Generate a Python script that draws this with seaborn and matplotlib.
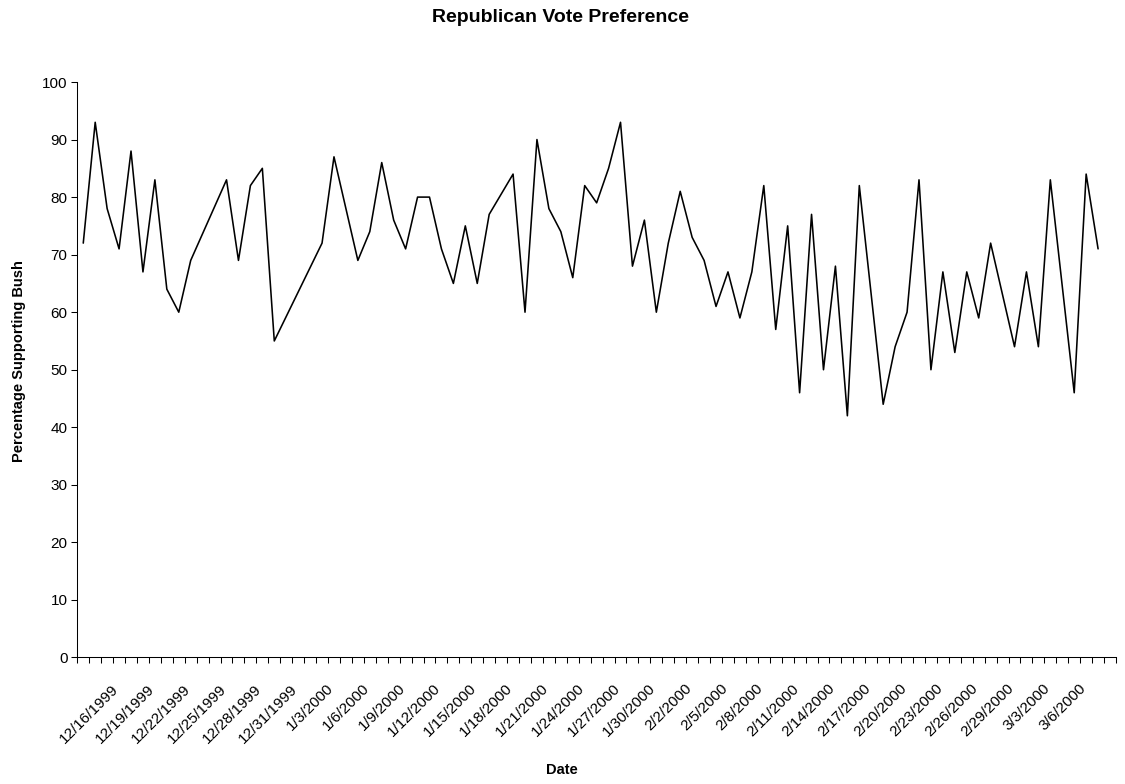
import matplotlib
matplotlib.use("Agg")
import matplotlib.pyplot as plt
import matplotlib.dates as mdates
from matplotlib.ticker import FixedLocator, NullFormatter
import numpy as np
import pandas as pd
import seaborn as sns

# Daily poll readings (days without a poll are simply absent)
poll_dates = [
    "1999-12-13", "1999-12-14", "1999-12-15", "1999-12-16", "1999-12-17",
    "1999-12-18", "1999-12-19", "1999-12-20", "1999-12-21", "1999-12-22",
    "1999-12-25", "1999-12-26", "1999-12-27", "1999-12-28", "1999-12-29",
    "2000-01-02", "2000-01-03", "2000-01-05", "2000-01-06", "2000-01-07",
    "2000-01-08", "2000-01-09", "2000-01-10", "2000-01-11", "2000-01-12",
    "2000-01-13", "2000-01-14", "2000-01-15", "2000-01-16", "2000-01-18",
    "2000-01-19", "2000-01-20", "2000-01-21", "2000-01-22", "2000-01-23",
    "2000-01-24", "2000-01-25", "2000-01-26", "2000-01-27", "2000-01-28",
    "2000-01-29", "2000-01-30", "2000-01-31", "2000-02-01", "2000-02-02",
    "2000-02-03", "2000-02-04", "2000-02-05", "2000-02-06", "2000-02-07",
    "2000-02-08", "2000-02-09", "2000-02-10", "2000-02-11", "2000-02-12",
    "2000-02-13", "2000-02-14", "2000-02-15", "2000-02-16", "2000-02-18",
    "2000-02-19", "2000-02-20", "2000-02-21", "2000-02-22", "2000-02-23",
    "2000-02-24", "2000-02-25", "2000-02-26", "2000-02-27", "2000-02-29",
    "2000-03-01", "2000-03-02", "2000-03-03", "2000-03-05", "2000-03-06",
    "2000-03-07",
]
pct_bush = [
    72, 93, 78, 71, 88,
    67, 83, 64, 60, 69,
    83, 69, 82, 85, 55,
    72, 87, 69, 74, 86,
    76, 71, 80, 80, 71,
    65, 75, 65, 77, 84,
    60, 90, 78, 74, 66,
    82, 79, 85, 93, 68,
    76, 60, 72, 81, 73,
    69, 61, 67, 59, 67,
    82, 57, 75, 46, 77,
    50, 68, 42, 82, 44,
    54, 60, 83, 50, 67,
    53, 67, 59, 72, 54,
    67, 54, 83, 46, 84,
    71,
]

axis_start = "1999-12-13"
axis_end = "2000-03-08"
label_start = "1999-12-16"
label_end = "2000-03-06"
label_step_days = 3
y_ticks = list(range(0, 101, 10))

df = pd.DataFrame({"Date": pd.to_datetime(poll_dates), "Percentage": pct_bush})

sns.set_theme(style="ticks")
plt.rcParams["font.family"] = ["Liberation Sans", "DejaVu Sans"]
plt.rcParams["text.color"] = "black"
plt.rcParams["axes.labelcolor"] = "black"
plt.rcParams["xtick.color"] = "black"
plt.rcParams["ytick.color"] = "black"

fig = plt.figure(figsize=(11.25, 7.84), dpi=100)
fig.patch.set_facecolor("white")
ax = fig.add_axes([0.0687, 0.1614, 0.992 - 0.0687, 0.8954 - 0.1614])
ax.set_facecolor("white")

sns.lineplot(data=df, x="Date", y="Percentage", color="black",
             linewidth=1.15, ax=ax, estimator=None)

# date axis with one slot per day, tick marks on the day boundaries
d0 = mdates.date2num(pd.Timestamp(axis_start))
d1 = mdates.date2num(pd.Timestamp(axis_end))
ax.set_xlim(d0 - 0.5, d1 + 0.5)
ax.xaxis.set_minor_locator(FixedLocator(np.arange(d0 - 0.5, d1 + 0.51, 1.0)))
ax.xaxis.set_minor_formatter(NullFormatter())

label_days = pd.date_range(label_start, label_end, freq=f"{label_step_days}D")
ax.set_xticks(mdates.date2num(label_days))
ax.set_xticklabels([f"{d.month}/{d.day}/{d.year}" for d in label_days])
ax.tick_params(axis="x", which="major", length=0, pad=23, labelsize=11,
               colors="black")
ax.tick_params(axis="x", which="minor", length=4.3, width=0.75,
               direction="out", color="black")
plt.setp(ax.get_xticklabels(), rotation=45, ha="right", va="baseline",
         rotation_mode="anchor")

ax.set_ylim(0, 100)
ax.set_yticks(y_ticks)
ax.tick_params(axis="y", length=4, width=0.75, direction="out", pad=3,
               labelsize=11, colors="black")

for side in ["top", "right"]:
    ax.spines[side].set_visible(False)
for side in ["left", "bottom"]:
    ax.spines[side].set_color("black")
    ax.spines[side].set_linewidth(0.75)

ax.set_xlabel("Date", fontsize=10.5, fontweight="bold", va="center")
ax.xaxis.set_label_coords(0.4666, -0.1955)
ax.set_ylabel("Percentage Supporting Bush", fontsize=10.5, fontweight="bold",
              va="center")
ax.yaxis.set_label_coords(-0.0561, 0.515)
ax.grid(False)

fig.text(0.4978, 1 - 18 / 784, "Republican Vote Preference", ha="center",
         va="center", fontsize=14, fontweight="bold", color="black")

fig.savefig("out.png", dpi=100, facecolor="white")
